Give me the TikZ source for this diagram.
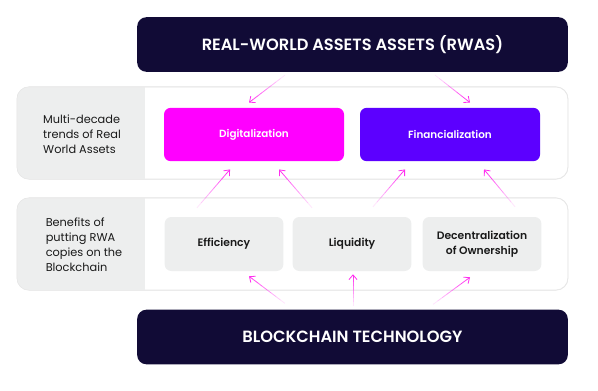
\documentclass[tikz,border=0pt]{standalone}
\usepackage{fontspec}
\setmainfont{Poppins}[BoldFont={Poppins SemiBold}]
\usetikzlibrary{arrows.meta,calc}
\definecolor{navy}{HTML}{110B36}
\definecolor{digi}{HTML}{FF00FF}
\definecolor{fina}{HTML}{5C00FF}
\definecolor{boxgray}{HTML}{EDEEEE}
\definecolor{panelline}{HTML}{E6E6E6}
\definecolor{flowpink}{HTML}{FF2EF0}
\definecolor{ink}{HTML}{1A1A1A}
% fading arrow from tail #1 to tip #2
\newcommand\fadeflow[2]{%
  \foreach \i [evaluate=\i as \op using (\i+1)/8] in {0,...,6}
    \draw[flowpink, line width=0.6pt, opacity=\op]
      ($(#1)!\i/8!(#2)$) -- ($(#1)!\i/8+1/8!(#2)$);
  \draw[flow] ($(#1)!7/8!(#2)$) -- (#2);
}
\begin{document}
\begin{tikzpicture}[x=0.75pt, y=-0.75pt,
  base/.style={fill=navy, rounded corners=7pt, minimum width=323pt,
               minimum height=41pt, text=white,
               font=\fontsize{12.2}{14}\selectfont\bfseries},
  trend/.style={rounded corners=5pt, minimum width=135pt,
                minimum height=40pt, text=white,
                font=\fontsize{7.8}{9}\selectfont\bfseries},
  benefit/.style={fill=boxgray, rounded corners=5pt, minimum width=89pt,
                  minimum height=40.5pt, text=ink, align=center,
                  font=\fontsize{8.1}{11}\selectfont\bfseries},
  panel/.style={draw=panelline, fill=white, rounded corners=9pt,
                minimum width=413pt, minimum height=69pt},
  caption/.style={align=left, text=ink,
                  font=\fontsize{8.5}{11.25}\selectfont},
  flow/.style={draw=flowpink, line width=0.6pt,
               -{Straight Barb[length=3.5pt,width=6pt]}},
]
  \useasboundingbox (0,0) rectangle (598,390);

  % top and bottom bars
  \node[base] (rwa) at (352.5,44.5) {REAL-WORLD ASSETS ASSETS (RWAS)};
  \node[base] (chain) at (352.5,337) {BLOCKCHAIN TECHNOLOGY};

  % row panels
  \node[panel] (trends) at (292.5,133) {};
  \node[panel] (benefits) at (292.5,244) {};
  \begin{scope}
    \clip[rounded corners=9pt] (trends.north west) rectangle (trends.south east);
    \fill[boxgray] (trends.north west) rectangle (145,179);
  \end{scope}
  \begin{scope}
    \clip[rounded corners=9pt] (benefits.north west) rectangle (benefits.south east);
    \fill[boxgray] (benefits.north west) rectangle (145,290);
  \end{scope}
  \draw[panelline, rounded corners=9pt] (trends.north west) rectangle (trends.south east);
  \draw[panelline, rounded corners=9pt] (benefits.north west) rectangle (benefits.south east);

  \node[caption] (trendtxt) at (82,134) {Multi-decade\\trends of Real\\World Assets};
  \node[caption] (benefittxt) at (84,245) {Benefits of\\putting RWA\\copies on the\\Blockchain};

  % trends
  \node[trend, fill=digi] (dig) at (254,134.5) {Digitalization};
  \node[trend, fill=fina] (fin) at (450,134.5) {Financialization};

  % benefits
  \node[benefit] (eff) at (224,244) {Efficiency};
  \node[benefit] (liq) at (352,244) {Liquidity};
  \node[benefit] (dec) at (482,244) {Decentralization\\of Ownership};

  % arrows
  \coordinate (t1) at ($(rwa.south)+(-67.5,3)$);
  \coordinate (t2) at ($(rwa.south)+(82.5,3)$);
  \coordinate (m1) at ($(eff.north)+(-27,-9)$);
  \coordinate (m2) at ($(liq.north)+(-40,-9)$);
  \coordinate (m3) at ($(liq.north)+(21,-10)$);
  \coordinate (m4) at ($(dec.north)+(33,-10)$);
  \coordinate (b1) at ($(chain.north)+(-67.5,-6)$);
  \coordinate (b2) at ($(chain.north)+(0.5,-3)$);
  \coordinate (b3) at ($(chain.north)+(80.5,-5)$);
  \coordinate (d1) at ($(dig.north)+(-5,-5)$);
  \coordinate (f1) at ($(fin.north)+(20,-5)$);
  \coordinate (d2) at ($(dig.south)+(-24,8)$);
  \coordinate (d3) at ($(dig.south)+(25,8)$);
  \coordinate (f2) at ($(fin.south)+(-45,8)$);
  \coordinate (f3) at ($(fin.south)+(34,8)$);
  \coordinate (e1) at ($(eff.south)+(25,5)$);
  \coordinate (l1) at ($(liq.south)+(1,3)$);
  \coordinate (c1) at ($(dec.south)+(-12,6)$);
  \fadeflow{t1}{d1}
  \fadeflow{t2}{f1}
  \fadeflow{m1}{d2}
  \fadeflow{m2}{d3}
  \fadeflow{m3}{f2}
  \fadeflow{m4}{f3}
  \fadeflow{b1}{e1}
  \fadeflow{b2}{l1}
  \fadeflow{b3}{c1}
\end{tikzpicture}
\end{document}
